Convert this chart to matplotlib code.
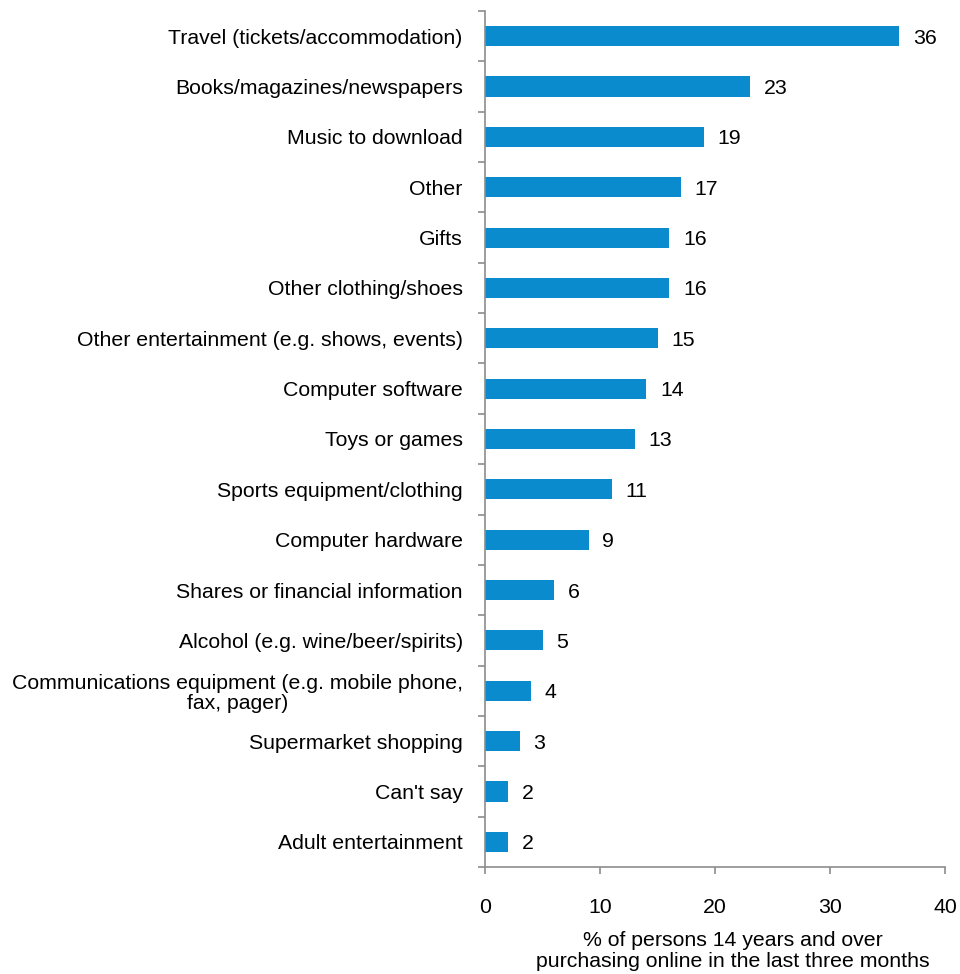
import numpy as np
import matplotlib.pyplot as plt

plt.rcParams['font.family'] = ['Liberation Sans', 'DejaVu Sans']

# data (top to bottom as shown)
categories = [
    "Travel (tickets/accommodation)",
    "Books/magazines/newspapers",
    "Music to download",
    "Other",
    "Gifts",
    "Other clothing/shoes",
    "Other entertainment (e.g. shows, events)",
    "Computer software",
    "Toys or games",
    "Sports equipment/clothing",
    "Computer hardware",
    "Shares or financial information",
    "Alcohol (e.g. wine/beer/spirits)",
    "Communications equipment (e.g. mobile phone,\nfax, pager)",
    "Supermarket shopping",
    "Can't say",
    "Adult entertainment",
]
values = [36, 23, 19, 17, 16, 16, 15, 14, 13, 11, 9, 6, 5, 4, 3, 2, 2]
xticks = [0, 10, 20, 30, 40]

bar_color = "#0A8BCE"
axis_color = "#8C8C8C"
fs = 15.3

fig = plt.figure(figsize=(9.6, 9.74), dpi=100)
ax = fig.add_axes([485 / 960, 1 - 867 / 974, 460 / 960, (867 - 11) / 974])

n = len(categories)
y = np.arange(n)
ax.barh(y, values, height=0.4, color=bar_color)
ax.set_ylim(n - 0.5, -0.5)
ax.set_xlim(0, 40)

for yi, v in zip(y, values):
    ax.annotate(str(v), (v, yi), xytext=(10, 0), textcoords="offset points",
                va="center_baseline", ha="left", fontsize=fs)

ax.set_yticks(y)
ax.set_yticklabels(categories, fontsize=fs, ha="right", multialignment="center",
                   linespacing=1.1)
ax.tick_params(axis="y", which="major", length=0, pad=16)
ax.set_yticks(np.arange(-0.5, n, 1), minor=True)
ax.tick_params(axis="y", which="minor", length=5, width=1.2, color=axis_color, direction="out")

ax.set_xticks(xticks)
ax.set_xticklabels([str(t) for t in xticks], fontsize=fs)
ax.tick_params(axis="x", length=5, width=1.2, color=axis_color, direction="out", pad=17)

for s in ["top", "right"]:
    ax.spines[s].set_visible(False)
for s in ["left", "bottom"]:
    ax.spines[s].set_color(axis_color)
    ax.spines[s].set_linewidth(1.2)

ax.set_xlabel("% of persons 14 years and over\npurchasing online in the last three months",
              fontsize=fs, linespacing=1.15)
ax.xaxis.set_label_coords((733 - 485) / 460, -(931 - 867) / 856, transform=ax.transAxes)
ax.xaxis.label.set_va("top")

fig.savefig("out.png", dpi=100)
